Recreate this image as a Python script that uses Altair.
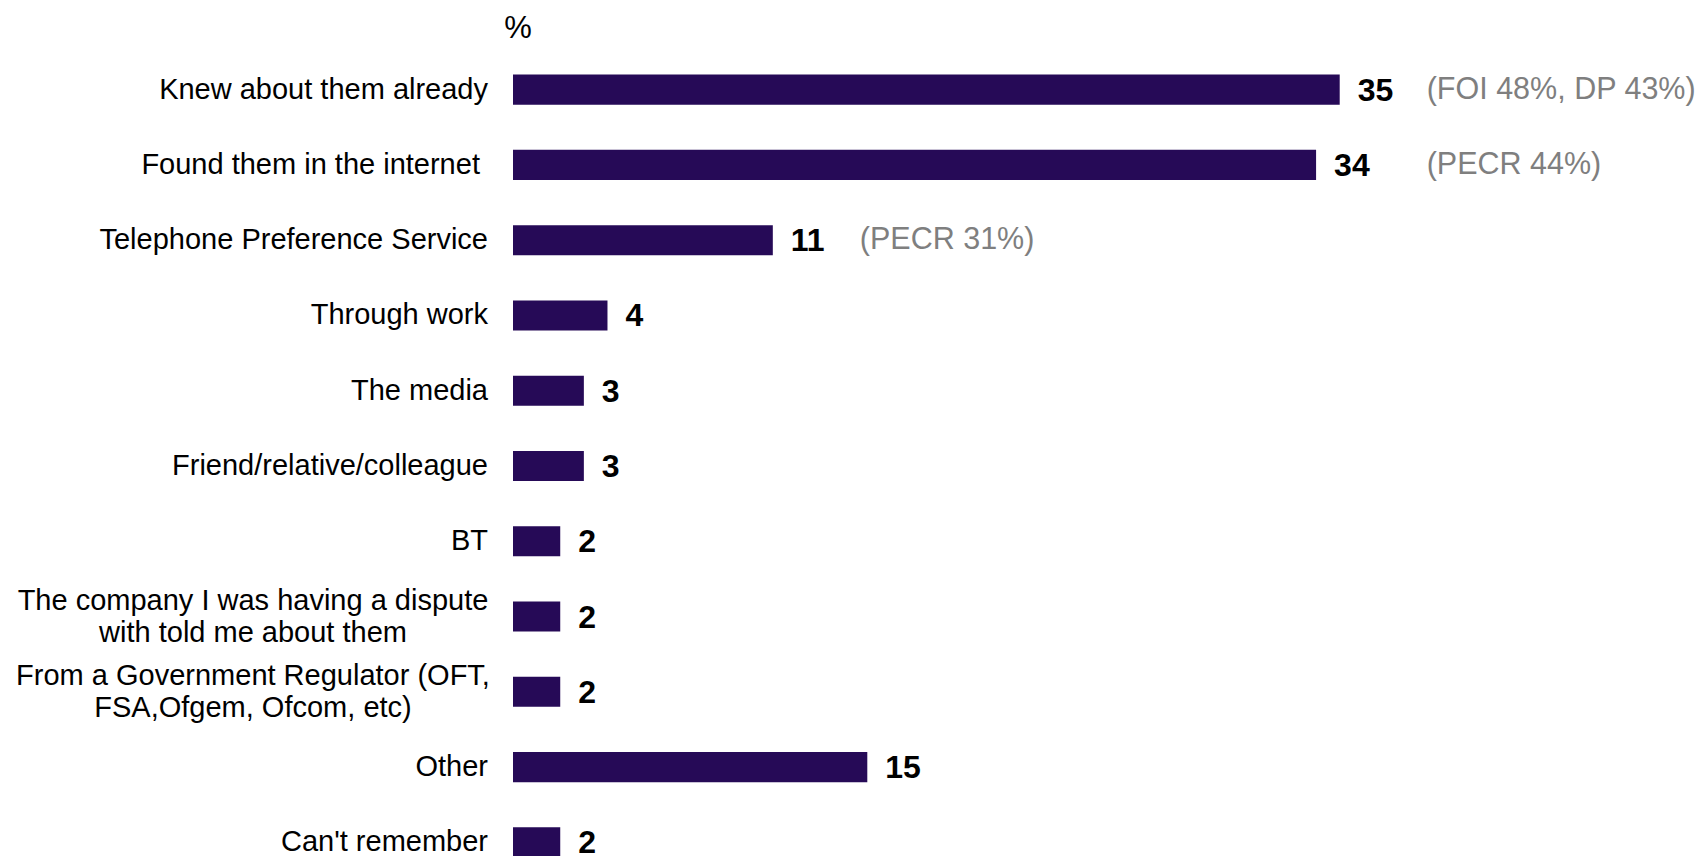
import altair as alt
import pandas as pd

categories = [
    "Knew about them already",
    "Found them in the internet ",
    "Telephone Preference Service",
    "Through work",
    "The media",
    "Friend/relative/colleague",
    "BT",
    "The company I was having a dispute\nwith told me about them",
    "From a Government Regulator (OFT,\nFSA,Ofgem, Ofcom, etc)",
    "Other",
    "Can't remember",
]
values = [35, 34, 11, 4, 3, 3, 2, 2, 2, 15, 2]
notes = ["(FOI 48%, DP 43%)", "(PECR 44%)", "(PECR 31%)", "", "", "", "", "", "", "", ""]
note_anchor = [35, 35, 11, 0, 0, 0, 0, 0, 0, 0, 0]
unit_label = "%"

df = pd.DataFrame({
    "cat": categories,
    "value": values,
    "note": notes,
    "anchor": note_anchor,
    "multi": ["\n" in c for c in categories],
    "trail": [c.endswith(" ") for c in categories],
})

FONT = "Liberation Sans"
BAR = "#260a57"
LABEL_SIZE = 29

y_enc = alt.Y("cat:N", sort=None, axis=None,
              scale=alt.Scale(paddingInner=0.6, paddingOuter=0.3))
x_scale = alt.Scale(domain=[0, 50], nice=False, zero=True)

base = alt.Chart(df)

bars = base.mark_bar(color=BAR).encode(
    x=alt.X("value:Q", scale=x_scale, axis=None),
    y=y_enc,
)

value_text = base.mark_text(
    align="left", baseline="middle", dx=18, dy=1, font=FONT, fontSize=32,
    fontWeight="bold", color="#000000",
).encode(
    x=alt.X("value:Q", scale=x_scale, axis=None),
    y=y_enc,
    text=alt.Text("value:Q"),
)

note_text = base.transform_filter("datum.note != ''").mark_text(
    align="left", baseline="middle", dx=87, font=FONT, fontSize=30.5,
    color="#7f7f7f",
).encode(
    x=alt.X("anchor:Q", scale=x_scale, axis=None),
    y=y_enc,
    text="note:N",
)

label_single = base.transform_filter("!datum.multi && !datum.trail").mark_text(
    align="right", baseline="middle", dx=-25, font=FONT, fontSize=LABEL_SIZE,
    color="#000000",
).encode(
    x=alt.value(0),
    y=y_enc,
    text="cat:N",
)

# label that keeps a trailing space: shifted left by one space width
label_trail = base.transform_filter("!datum.multi && datum.trail").mark_text(
    align="right", baseline="middle", dx=-25 - 0.278 * LABEL_SIZE, font=FONT,
    fontSize=LABEL_SIZE, color="#000000",
).encode(
    x=alt.value(0),
    y=y_enc,
    text="cat:N",
)

label_multi = base.transform_filter("datum.multi").mark_text(
    align="center", baseline="middle", dx=-260, dy=-16, font=FONT, fontSize=LABEL_SIZE,
    color="#000000", lineBreak="\n", lineHeight=32,
).encode(
    x=alt.value(0),
    y=y_enc,
    text="cat:N",
)

pct = alt.Chart(pd.DataFrame({"t": [unit_label]})).mark_text(
    align="center", baseline="middle", font=FONT, fontSize=31, color="#000000",
).encode(
    x=alt.value(5),
    y=alt.value(-23),
    text="t:N",
)

chart = alt.layer(
    bars, value_text, note_text, label_single, label_trail, label_multi, pct
).properties(
    width=1181,
    height=828,
    autosize=alt.AutoSizeParams(type="none"),
    padding={"left": 505, "top": 44, "right": 6, "bottom": 0},
).configure_view(stroke=None)

chart.save("out.html", embed_options={"renderer": "svg", "actions": False})
